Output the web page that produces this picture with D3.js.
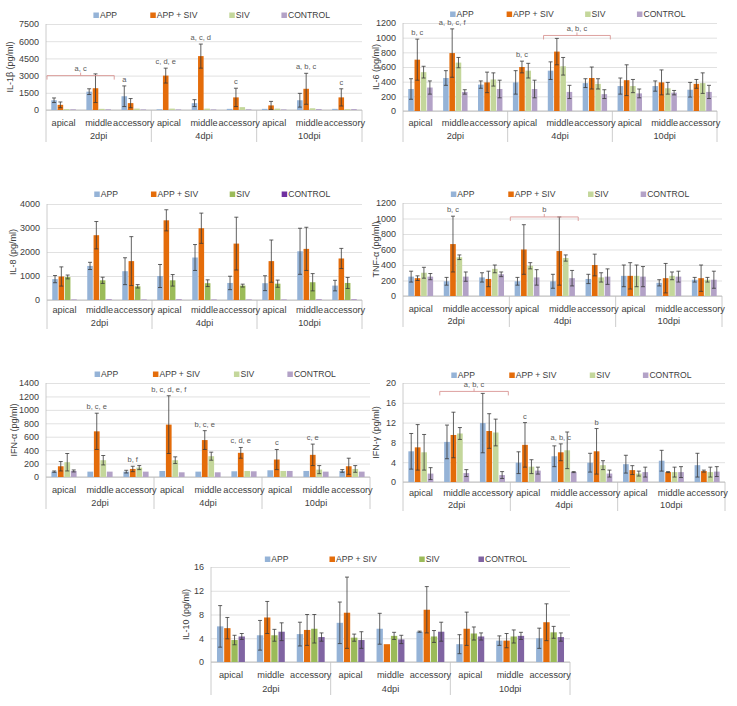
<!DOCTYPE html>
<html>
<head>
<meta charset="utf-8">
<script src="https://cdn.jsdelivr.net/npm/d3@7"></script>
<style>
  body { margin: 0; background: #fff; }
  text { font-family: "Liberation Sans", Arial, sans-serif; }
</style>
</head>
<body>
<script>
// cytokine panels, 3 timepoints x 3 sites x 4 groups

const categories = ["apical", "middle", "accessory"];
const dpiGroups = ["2dpi", "4dpi", "10dpi"];
const seriesNames = ["APP", "APP + SIV", "SIV", "CONTROL"];

// each row = one series, 9 values (2dpi apical..10dpi accessory)
const il1bMean = [
  [850, 1600, 1200, 60, 600, 100, 100, 850, 100],
  [450, 1900, 600, 3000, 4700, 1100, 400, 1850, 1100],
  [80, 100, 120, 120, 120, 250, 120, 150, 70],
  [60, 60, 50, 50, 50, 60, 50, 80, 80]];
const il1bErr = [
  [200, 250, 900, 0, 300, 0, 0, 600, 0],
  [250, 1250, 400, 650, 1050, 800, 350, 1350, 750],
  [0, 0, 0, 0, 0, 0, 0, 0, 0],
  [0, 0, 0, 0, 0, 0, 0, 0, 0]];

const il6Mean = [
  [300, 450, 360, 390, 550, 380, 340, 340, 290],
  [700, 790, 390, 600, 810, 450, 420, 390, 370],
  [530, 660, 430, 550, 610, 370, 340, 310, 380],
  [320, 260, 300, 300, 260, 230, 240, 250, 260]];
const il6Err = [
  [140, 100, 50, 160, 120, 60, 110, 70, 100],
  [280, 330, 140, 80, 180, 150, 210, 170, 60],
  [80, 70, 90, 100, 120, 70, 90, 80, 140],
  [90, 30, 120, 120, 90, 60, 60, 30, 90]];

const il8Mean = [
  [870, 1420, 1200, 1000, 1770, 710, 700, 2030, 600],
  [980, 2700, 1620, 3320, 2990, 2350, 1620, 2130, 1730],
  [960, 820, 570, 820, 700, 600, 680, 740, 710],
  [10, 15, 10, 15, 10, 10, 10, 15, 15]];
const il8Err = [
  [150, 150, 560, 480, 540, 280, 310, 960, 220],
  [400, 570, 1020, 440, 630, 1100, 880, 900, 420],
  [80, 130, 70, 240, 140, 60, 150, 360, 230],
  [0, 0, 0, 0, 0, 0, 0, 0, 0]];

const tnfMean = [
  [250, 190, 240, 190, 190, 220, 260, 170, 210],
  [230, 670, 220, 600, 580, 400, 260, 230, 230],
  [300, 500, 350, 390, 490, 240, 260, 260, 210],
  [250, 250, 280, 240, 230, 250, 250, 250, 210]];
const tnfErr = [
  [70, 50, 60, 50, 90, 60, 140, 40, 30],
  [30, 360, 100, 320, 440, 140, 170, 190, 170],
  [70, 30, 50, 40, 40, 60, 140, 50, 30],
  [40, 60, 30, 100, 100, 100, 130, 70, 110]];

const ifnaMean = [
  [80, 80, 80, 90, 80, 85, 100, 90, 90],
  [160, 680, 120, 780, 550, 360, 260, 330, 160],
  [220, 250, 140, 250, 310, 90, 90, 110, 120],
  [90, 80, 80, 70, 70, 85, 90, 80, 80]];
const ifnaErr = [
  [10, 0, 20, 0, 0, 0, 0, 0, 20],
  [70, 270, 40, 430, 140, 80, 150, 160, 120],
  [130, 70, 30, 50, 60, 0, 0, 60, 50],
  [15, 0, 0, 0, 0, 0, 0, 0, 0]];

const ifngMean = [
  [6.2, 8.1, 11.9, 3.9, 5.2, 3.9, 3.6, 4.3, 3.4],
  [7.0, 9.5, 10.3, 7.5, 6.0, 6.2, 2.4, 2.0, 2.2],
  [6.0, 9.8, 10.0, 3.1, 6.4, 3.4, 1.7, 2.0, 2.0],
  [1.7, 1.8, 1.4, 2.3, 2.0, 1.7, 2.0, 2.0, 2.1]];
const ifngErr = [
  [3.6, 3.4, 6.0, 2.2, 2.1, 1.9, 1.8, 2.1, 2.4],
  [4.6, 4.6, 3.5, 4.5, 1.7, 4.6, 0.9, 0.1, 0.2],
  [3.6, 1.2, 2.7, 1.4, 3.7, 0.9, 0.5, 1.0, 1.0],
  [1.2, 0.7, 0.7, 0.7, 0.1, 0.7, 1.0, 1.1, 1.0]];

const il10Mean = [
  [6.0, 4.5, 4.7, 6.6, 5.6, 5.1, 3.0, 3.6, 4.0],
  [5.7, 7.5, 5.4, 8.3, 3.0, 8.8, 5.6, 3.6, 6.7],
  [3.7, 4.5, 5.6, 4.1, 4.4, 4.3, 4.8, 4.3, 5.0],
  [4.3, 5.1, 4.2, 3.7, 3.8, 5.1, 4.3, 4.4, 4.2]];
const il10Err = [
  [3.5, 2.5, 2.0, 3.5, 2.6, 0.1, 1.6, 0.8, 1.7],
  [1.8, 2.7, 2.6, 6.0, 0, 3.9, 2.8, 1.2, 3.1],
  [0.8, 1.0, 2.4, 0.6, 0.6, 1.0, 1.1, 1.1, 1.0],
  [0.5, 1.5, 0.7, 1.4, 0.7, 1.6, 0.6, 0.6, 0.7]];

// significance letters: [category, series, text]
const il1bNotes = [[2, 0, "a"], [3, 1, "c, d, e"], [4, 1, "a, c, d"], [5, 1, "c"], [7, 1, "a, b, c"], [8, 1, "c"]];
const il6Notes = [[0, 1, "b, c"], [1, 1, "a, b, c, f"], [3, 1, "b, c"]];
const tnfNotes = [[1, 1, "b, c"]];
const ifnaNotes = [[1, 1, "b, c, e"], [2, 1, "b, f"], [3, 1, "b, c, d, e, f"], [4, 1, "b, c, e"], [5, 1, "c, d, e"], [6, 1, "c"], [7, 1, "c, e"]];
const ifngNotes = [[3, 1, "c"], [4, 1, "a, b, c"], [5, 1, "b"]];
// brackets: [from category, to category, value, text]
const il1bBrackets = [[0, 1, 3000, "a, c"]];
const il6Brackets = [[4, 5, 1030, "a, b, c"]];
const tnfBrackets = [[3, 4, 1020, "b"]];
const ifngBrackets = [[1, 2, 18.3, "a, b, c"]];

const colLight = ["#95b3d7", "#e46c0a", "#c4d79b", "#b3a2c7"];
const colDark = ["#95b3d7", "#e46c0a", "#9bbb59", "#8064a2"];

const svg = d3.select("body").append("svg")
  .attr("width", 737).attr("height", 706);

const panels = [
  {title: "IL-1β (pg/ml)", mean: il1bMean, err: il1bErr, notes: il1bNotes, brackets: il1bBrackets,
   x0: 46, x1: 362, yTop: 24, yBase: 110, yMax: 7500, yStep: 1500, legY: 15, catY: 121, dpiY: 136, titleX: 10, cols: colLight},
  {title: "IL-6 (pg/ml)", mean: il6Mean, err: il6Err, notes: il6Notes, brackets: il6Brackets,
   x0: 403, x1: 717, yTop: 23, yBase: 111, yMax: 1200, yStep: 200, legY: 14, catY: 121, dpiY: 136, titleX: 376, cols: colLight},
  {title: "IL-8 (pg/ml)", mean: il8Mean, err: il8Err, notes: [], brackets: [],
   x0: 47, x1: 362, yTop: 204, yBase: 300, yMax: 4000, yStep: 1000, legY: 194, catY: 308, dpiY: 323, titleX: 13, cols: ["#95b3d7", "#e46c0a", "#9bbb59", "#7030a0"]},
  {title: "TNF-α (pg/ml)", mean: tnfMean, err: tnfErr, notes: tnfNotes, brackets: tnfBrackets,
   x0: 403, x1: 722, yTop: 203, yBase: 296, yMax: 1200, yStep: 200, legY: 194, catY: 307, dpiY: 321, titleX: 376, cols: colLight},
  {title: "IFN-α (pg/ml)", mean: ifnaMean, err: ifnaErr, notes: ifnaNotes, brackets: [],
   x0: 46, x1: 370, yTop: 383, yBase: 477, yMax: 1400, yStep: 200, legY: 374, catY: 488, dpiY: 503, titleX: 14, cols: colLight},
  {title: "IFN-γ (pg/ml)", mean: ifngMean, err: ifngErr, notes: ifngNotes, brackets: ifngBrackets,
   x0: 403, x1: 725, yTop: 383, yBase: 482, yMax: 20, yStep: 4, legY: 375, catY: 491, dpiY: 505, titleX: 376, cols: colLight},
  {title: "IL-10 (pg/ml)", mean: il10Mean, err: il10Err, notes: [], brackets: [],
   x0: 211, x1: 570, yTop: 567, yBase: 662, yMax: 16, yStep: 4, legY: 559, catY: 673, dpiY: 689, titleX: 186, cols: colDark}
];

panels.forEach(drawPanel);

function drawPanel(p) {
  const g = svg.append("g");
  const y = d3.scaleLinear().domain([0, p.yMax]).range([p.yBase, p.yTop]);
  const x = d3.scaleBand().domain(d3.range(9)).range([p.x0, p.x1])
    .paddingInner(0.3).paddingOuter(0.15);
  const xs = d3.scaleBand().domain(d3.range(4)).range([0, x.bandwidth()]).paddingInner(0.12);
  const step = x.step();
  const bottom = p.dpiY + 6;

  // gridlines + y labels
  const yAxis = g.append("g")
    .attr("transform", "translate(" + p.x0 + ",0)")
    .call(d3.axisLeft(y).tickValues(d3.range(0, p.yMax + p.yStep / 2, p.yStep))
      .tickFormat(d3.format("d"))
      .tickSize(-(p.x1 - p.x0)).tickPadding(7));
  yAxis.select(".domain").remove();
  yAxis.selectAll("line").attr("stroke", "#d9d9d9").attr("stroke-width", 0.8);
  yAxis.selectAll("text").attr("fill", "#404040").style("font-size", "9px");

  // category axis frame
  g.append("line").attr("x1", p.x0).attr("x2", p.x1).attr("y1", p.yBase).attr("y2", p.yBase)
    .attr("stroke", "#bfbfbf");
  [0, 3, 6, 9].forEach(k => {
    const xx = p.x0 + k * step;
    g.append("line").attr("x1", xx).attr("x2", xx)
      .attr("y1", k == 0 ? p.yTop : p.yBase).attr("y2", bottom)
      .attr("stroke", "#bfbfbf").attr("stroke-width", 0.8);
  });

  const xAxis = g.append("g")
    .attr("transform", "translate(0," + (p.catY - 5) + ")")
    .call(d3.axisBottom(x).tickSize(0).tickFormat(i => categories[i % 3]));
  xAxis.select(".domain").remove();
  xAxis.selectAll("text").attr("fill", "#404040").style("font-size", "9.2px");

  g.selectAll(".dpi").data(dpiGroups).enter().append("text")
    .attr("x", (d, k) => p.x0 + (k * 3 + 1.5) * step)
    .attr("y", p.dpiY).attr("dy", "0.35em")
    .attr("text-anchor", "middle").attr("fill", "#404040")
    .style("font-size", "9.2px").text(d => d);

  // bars
  const flat = [];
  p.mean.forEach((row, s) => row.forEach((v, c) => flat.push({s, c, v, e: p.err[s][c]})));
  g.selectAll(".bar").data(flat).enter().append("rect")
    .attr("x", d => x(d.c) + xs(d.s))
    .attr("width", xs.bandwidth())
    .attr("y", d => y(d.v))
    .attr("height", d => p.yBase - y(d.v))
    .attr("fill", d => p.cols[d.s]);

  const eb = flat.filter(d => d.e > 0);
  const cx = d => x(d.c) + xs(d.s) + xs.bandwidth() / 2;
  g.selectAll(".eb").data(eb).enter().append("path")
    .attr("d", d => {
      const xm = cx(d), yt = y(d.v + d.e), yb = y(Math.max(0, d.v - d.e));
      return "M" + xm + "," + yt + "V" + yb +
        "M" + (xm - 2) + "," + yt + "H" + (xm + 2) +
        "M" + (xm - 2) + "," + yb + "H" + (xm + 2);
    })
    .attr("stroke", "#3a3a3a").attr("stroke-width", 0.8).attr("fill", "none");

  // letters
  g.selectAll(".note").data(p.notes).enter().append("text")
    .attr("x", d => x(d[0]) + xs(d[1]) + xs.bandwidth() / 2)
    .attr("y", d => y(p.mean[d[1]][d[0]] + p.err[d[1]][d[0]]) - 4)
    .attr("text-anchor", "middle").attr("fill", "#595959")
    .style("font-size", "7.5px").text(d => d[2]);

  p.brackets.forEach(b => {
    const xa = p.x0 + b[0] * step + 1, xb = p.x0 + (b[1] + 1) * step - 2;
    const yy = y(b[2]), xm = (xa + xb) / 2;
    g.append("path")
      .attr("d", "M" + xa + "," + (yy + 4) + "V" + yy + "H" + xb + "V" + (yy + 4) +
        "M" + xm + "," + yy + "V" + (yy - 3))
      .attr("stroke", "#d99694").attr("stroke-width", 0.9).attr("fill", "none");
    g.append("text").attr("x", xm).attr("y", yy - 4.5)
      .attr("text-anchor", "middle").attr("fill", "#595959")
      .style("font-size", "7.5px").text(b[3]);
  });

  // legend
  const fr = [0.15, 0.33, 0.58, 0.745];
  const leg = g.selectAll(".leg").data(seriesNames).enter().append("g")
    .attr("transform", (d, i) => "translate(" + (p.x0 + fr[i] * (p.x1 - p.x0)) + "," + p.legY + ")");
  leg.append("rect").attr("x", 0).attr("y", -2.5).attr("width", 5.5).attr("height", 5.5)
    .attr("fill", (d, i) => p.cols[i]);
  leg.append("text").attr("x", 6.5).attr("dy", "0.35em").attr("fill", "#404040")
    .style("font-size", "8.6px").text(d => d);

  // y title
  g.append("text")
    .attr("transform", "translate(" + p.titleX + "," + ((p.yTop + p.yBase) / 2) + ") rotate(-90)")
    .attr("text-anchor", "middle").attr("dy", "0.35em").attr("fill", "#404040")
    .style("font-size", "9px").text(p.title);
}
</script>
</body>
</html>
